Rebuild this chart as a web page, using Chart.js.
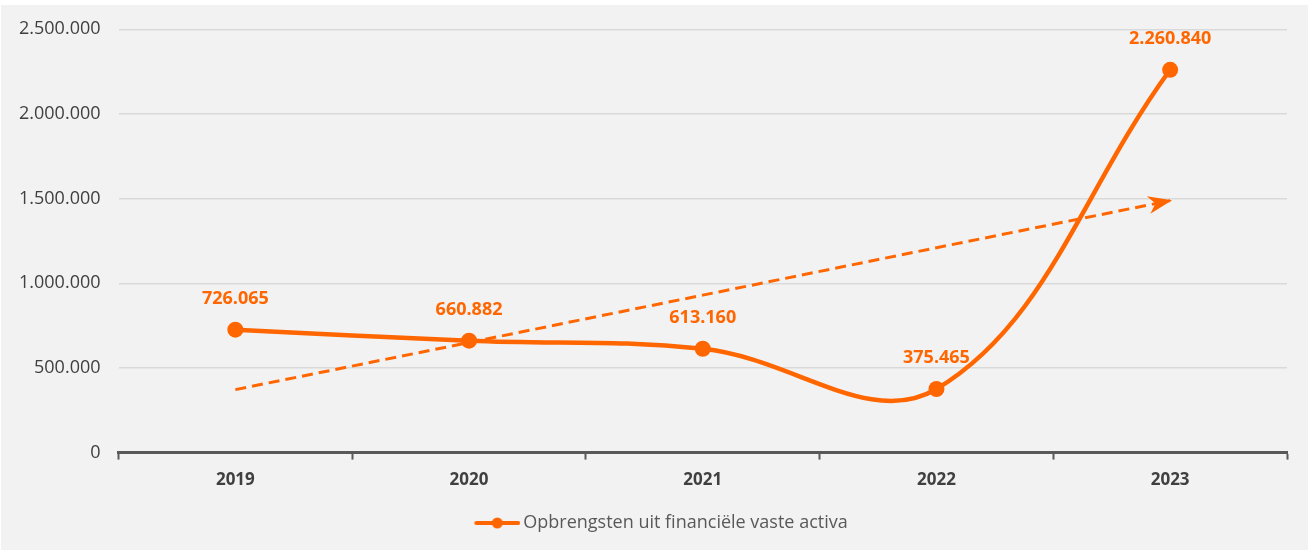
<!DOCTYPE html>
<html>
<head>
<meta charset="utf-8">
<script src="https://cdn.jsdelivr.net/npm/chart.js@4.4.1/dist/chart.umd.min.js"></script>
<style>
    html, body { margin: 0; padding: 0; background: #ffffff; }
    #wrap { position: absolute; left: 1px; top: 5px; width: 1307px; height: 545px; background: #f2f2f2; }
</style>
</head>
<body>
<div id="wrap"><canvas id="chart"></canvas></div>
<script>
// Chart data
const years = ['2019', '2020', '2021', '2022', '2023'];
const revenue = [726065, 660882, 613160, 375465, 2260840];
// trend line
const trendValues = [372000, 650000, 930000, 1210000, 1488000];
const yTicks = [0, 500000, 1000000, 1500000, 2000000, 2500000];
const seriesLabel = 'Opbrengsten uit financiële vaste activa';

const orange = '#ff6600';
const fontFamily = "'Open Sans', 'DejaVu Sans', sans-serif";

function formatNumber(value) {
    return String(Math.round(value)).replace(/\B(?=(\d{3})+(?!\d))/g, '.');
}

// legend icon: line with a dot in the middle (drawn in the right part so the text sits close)
function makeLegendIcon() {
    const c = document.createElement('canvas');
    c.width = 86;
    c.height = 14;
    const g = c.getContext('2d');
    g.strokeStyle = orange;
    g.lineWidth = 4;
    g.lineCap = 'round';
    g.beginPath();
    g.moveTo(42, 7);
    g.lineTo(84, 7);
    g.stroke();
    g.fillStyle = orange;
    g.beginPath();
    g.arc(63, 7, 5.5, 0, Math.PI * 2);
    g.fill();
    return c;
}

// value labels above the points
const valueLabels = {
    id: 'valueLabels',
    afterDatasetsDraw(chart) {
        const ctx = chart.ctx;
        const meta = chart.getDatasetMeta(0);
        ctx.save();
        ctx.font = 'bold 18px ' + fontFamily;
        ctx.fillStyle = orange;
        ctx.textAlign = 'center';
        ctx.textBaseline = 'middle';
        meta.data.forEach((pt, i) => {
            ctx.fillText(formatNumber(revenue[i]), pt.x, pt.y - 31);
        });
        ctx.restore();
    }
};

// arrow head at the end of the trend line
const trendArrow = {
    id: 'trendArrow',
    afterDatasetsDraw(chart) {
        const meta = chart.getDatasetMeta(1);
        const pts = meta.data;
        if (pts.length < 2) return;
        const a = pts[pts.length - 2];
        const b = pts[pts.length - 1];
        const angle = Math.atan2(b.y - a.y, b.x - a.x);
        const ctx = chart.ctx;
        ctx.save();
        ctx.translate(b.x, b.y);
        ctx.rotate(angle);
        ctx.fillStyle = orange;
        ctx.beginPath();
        ctx.moveTo(2, 0);
        ctx.lineTo(-22, -9);
        ctx.lineTo(-15, 0);
        ctx.lineTo(-22, 9);
        ctx.closePath();
        ctx.fill();
        ctx.restore();
    }
};

const ctx = document.getElementById('chart').getContext('2d');
const chart = new Chart(ctx, {
    type: 'line',
    data: {
        labels: years,
        datasets: [
            {
                label: seriesLabel,
                data: revenue,
                borderColor: orange,
                backgroundColor: orange,
                borderWidth: 4.5,
                pointRadius: 8,
                pointHoverRadius: 8,
                pointBackgroundColor: orange,
                pointBorderWidth: 0,
                tension: 0.38,
                fill: false,
                order: 0
            },
            {
                label: 'trend',
                data: trendValues,
                borderColor: orange,
                borderWidth: 3,
                borderDash: [11, 6],
                pointRadius: 0,
                tension: 0,
                fill: false,
                order: 1
            }
        ]
    },
    options: {
        responsive: true,
        maintainAspectRatio: false,
        animation: false,
        events: [],
        layout: {
            padding: { top: 5, right: 21, left: 0, bottom: 8 }
        },
        scales: {
            x: {
                offset: true,
                border: { display: true, color: '#595959', width: 3 },
                grid: {
                    offset: true,
                    drawOnChartArea: false,
                    drawTicks: true,
                    tickLength: 7,
                    tickWidth: 2,
                    tickColor: '#595959'
                },
                ticks: {
                    color: '#404040',
                    padding: 10,
                    font: { family: fontFamily, size: 17, weight: 'bold' }
                }
            },
            y: {
                min: 0,
                max: 2500000,
                afterBuildTicks(axis) {
                    axis.ticks = yTicks.map(v => ({ value: v }));
                },
                border: { display: false },
                grid: {
                    color: '#d9d9d9',
                    lineWidth: 1.5,
                    drawTicks: false
                },
                ticks: {
                    color: '#404040',
                    padding: 18,
                    font: { family: fontFamily, size: 18, lineHeight: 0.7 },
                    callback: value => formatNumber(value)
                }
            }
        },
        plugins: {
            legend: {
                display: true,
                position: 'bottom',
                labels: {
                    color: '#595959',
                    font: { family: fontFamily, size: 18 },
                    usePointStyle: true,
                    pointStyle: makeLegendIcon(),
                    pointStyleWidth: 74,
                    padding: 14,
                    filter: item => item.datasetIndex === 0
                }
            },
            tooltip: { enabled: false }
        }
    },
    plugins: [valueLabels, trendArrow]
});
</script>
</body>
</html>
